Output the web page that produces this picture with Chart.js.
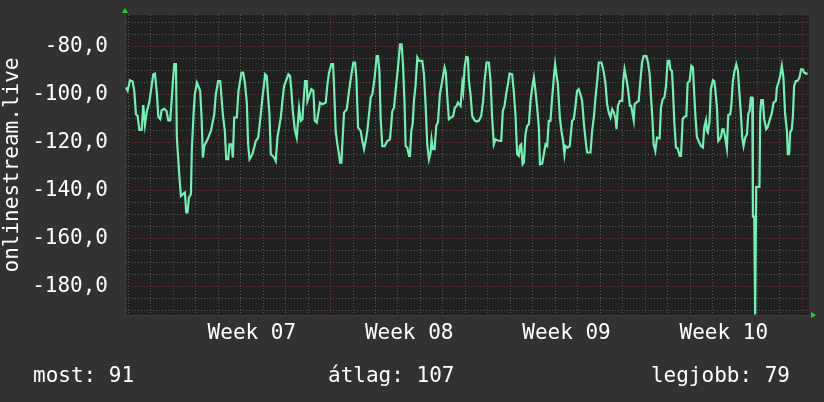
<!DOCTYPE html>
<html>
<head>
<meta charset="utf-8">
<script src="https://cdn.jsdelivr.net/npm/chart.js@4/dist/chart.umd.min.js"></script>
<style>
    html, body { margin: 0; padding: 0; background: #323232; }
    #wrap { position: relative; width: 824px; height: 402px; }
    canvas { display: block; }
    .foot {
        position: absolute;
        top: 363px;
        font: 21px "DejaVu Sans Mono", monospace;
        line-height: 25px;
        color: #ffffff;
        white-space: pre;
    }
</style>
</head>
<body>
<div id="wrap">
    <canvas id="graph" width="824" height="402"></canvas>
    <div class="foot" id="foot-0" style="left:33px"></div>
    <div class="foot" id="foot-1" style="left:328px"></div>
    <div class="foot" id="foot-2" style="right:34px"></div>
</div>
<script>
// hours since Monday 00:00 of week 07, value
const readings = [
    [-50.5, -96.9], [-48.7, -98.3], [-46.2, -93.9], [-43.3, -94.4], [-41.6, -98.3], [-39.8, -108.1], [-38.0, -108.8],
    [-36.2, -114.6], [-33.7, -114.6], [-32.0, -104.2], [-30.2, -112.5], [-28.1, -106.7], [-25.6, -103.2], [-23.8, -98.3],
    [-21.3, -91.4], [-19.5, -91.1], [-17.4, -99.7], [-15.9, -109.2], [-13.8, -110.1], [-12.4, -106.4], [-9.6, -105.8],
    [-7.1, -106.7], [-5.3, -110.6], [-3.2, -110.6], [-1.7, -102.5], [-0.3, -94.2], [1.1, -87.2], [2.9, -87.2],
    [3.9, -117.8], [6.4, -133.1], [8.2, -142.1], [12.5, -140.7], [13.9, -149.0], [15.3, -149.0], [16.7, -142.8],
    [18.9, -141.4], [19.9, -122.6], [21.7, -108.1], [23.1, -99.7], [25.3, -94.9], [28.8, -98.3], [30.3, -109.4],
    [31.7, -126.1], [33.1, -121.3], [36.7, -118.5], [40.2, -115.0], [43.8, -108.1], [45.5, -99.7], [48.0, -94.2],
    [50.2, -94.2], [53.0, -108.1], [55.1, -115.0], [56.6, -126.8], [58.7, -126.8], [60.1, -120.6], [62.3, -120.6],
    [63.7, -126.1], [65.1, -109.4], [67.9, -109.4], [69.7, -98.3], [72.9, -90.7], [74.7, -90.7], [76.5, -94.9],
    [78.6, -103.2], [80.0, -120.6], [81.5, -126.8], [84.6, -124.7], [88.2, -119.2], [90.7, -117.8], [93.5, -108.1],
    [95.3, -101.1], [98.2, -91.4], [99.9, -92.1], [101.4, -101.1], [102.8, -108.1], [104.2, -124.7], [107.8, -126.1],
    [109.5, -127.5], [111.3, -117.8], [114.9, -109.4], [116.6, -102.5], [118.4, -96.3], [123.0, -91.4], [124.8, -92.1],
    [126.2, -98.3], [127.7, -106.7], [129.8, -114.3], [131.9, -117.8], [134.4, -105.3],
    [136.2, -110.8], [138.0, -110.1], [139.1, -103.2], [140.8, -94.2], [142.6, -94.2], [143.3, -102.5], [145.1, -100.4],
    [147.6, -97.6], [149.7, -98.3], [151.2, -110.8], [153.3, -111.5], [154.7, -108.1], [156.8, -103.2], [159.3, -103.9],
    [162.9, -103.2], [164.7, -95.6], [166.4, -90.7], [168.9, -87.2], [170.7, -87.2], [171.8, -96.9], [173.5, -115.0],
    [175.3, -120.6], [177.1, -124.7], [178.2, -128.2], [179.6, -128.2], [180.6, -120.6], [182.4, -107.4], [185.3, -106.0],
    [187.8, -98.3], [190.3, -91.4], [192.4, -86.5], [194.2, -86.5], [195.6, -92.8], [197.4, -113.6], [200.2, -115.0],
    [202.0, -119.2], [203.8, -122.6], [205.5, -119.2], [207.3, -115.0], [209.1, -108.1], [210.9, -101.1], [212.7, -99.7],
    [215.1, -92.8], [217.3, -83.8], [218.7, -83.8], [220.2, -90.0], [221.5, -109.4], [223.3, -121.3], [225.8, -121.3],
    [228.7, -119.2], [231.5, -118.5], [234.0, -106.7], [235.8, -105.3], [237.5, -98.3], [239.3, -91.4], [241.1, -83.8],
    [242.2, -78.9], [243.9, -78.9], [245.4, -87.2], [247.1, -103.9], [248.2, -121.3], [250.0, -122.0], [251.8, -125.4],
    [252.8, -125.4], [254.3, -115.0], [255.7, -112.2], [257.1, -102.5], [258.9, -95.6], [260.7, -84.4], [262.4, -85.8],
    [266.0, -85.8], [267.8, -91.4], [269.5, -103.9], [271.3, -120.6], [273.1, -126.8], [274.9, -124.0], [275.9, -118.5],
    [277.4, -122.6], [279.2, -122.6], [280.9, -112.9], [282.7, -111.5], [284.8, -99.7], [287.3, -94.2], [289.8, -88.6],
    [291.2, -90.7], [292.6, -100.4], [294.4, -110.1], [296.9, -109.4], [299.0, -108.8], [300.8, -105.3], [302.6, -104.6],
    [304.0, -103.2],
    [306.9, -104.6], [308.7, -95.6], [309.7, -98.3], [311.2, -88.6], [312.9, -84.2], [314.7, -84.4], [315.8, -94.2],
    [317.5, -99.7], [319.3, -108.8], [321.8, -110.6], [324.0, -111.1], [326.4, -110.8], [328.9, -108.8], [331.0, -102.5],
    [332.5, -94.2], [334.6, -86.5], [337.1, -86.5], [338.9, -94.2], [340.6, -109.4], [342.4, -120.6], [344.2, -118.5],
    [346.0, -118.9], [348.8, -119.2], [350.3, -119.2], [352.0, -106.7], [353.8, -104.6], [355.6, -99.7], [357.4, -95.6],
    [359.2, -91.1], [362.0, -91.4], [363.8, -99.0], [365.6, -108.8], [367.3, -124.7], [369.1, -125.4], [370.2, -121.3],
    [371.6, -120.6], [373.1, -128.9], [374.5, -128.2], [376.2, -116.4], [378.0, -112.9], [379.8, -112.2], [381.6, -102.5],
    [383.4, -96.9], [385.2, -92.8], [386.9, -98.3], [388.7, -105.3], [390.5, -113.6], [391.6, -128.9], [394.0, -128.6],
    [395.8, -124.7], [397.6, -120.6], [399.4, -121.3], [401.1, -110.8], [402.9, -110.8], [404.7, -101.1], [406.5, -92.8],
    [407.9, -87.2], [409.3, -91.4], [410.8, -95.6], [412.9, -109.4], [414.6, -115.0], [416.4, -119.2], [417.8, -124.7],
    [418.9, -121.3], [421.4, -122.0], [423.5, -121.3], [426.0, -110.8], [427.8, -110.1], [429.6, -104.6], [431.3, -98.3],
    [433.1, -97.6], [434.9, -99.7], [436.7, -102.5], [438.5, -111.5], [440.3, -118.5], [442.0, -124.0], [445.6, -124.0],
    [447.4, -115.0], [449.2, -109.4], [451.0, -101.1], [452.8, -94.2], [454.5, -86.5], [457.4, -86.5], [459.9, -90.7],
    [461.7, -95.6], [463.4, -103.9], [465.2, -107.4], [467.0, -109.4], [468.8, -106.0], [470.6, -107.4], [472.4, -110.1],
    [473.4, -114.3], [474.9, -104.6], [477.0, -102.5], [479.5, -102.5], [480.6, -94.2], [482.0, -89.3], [483.7, -92.8],
    [485.5, -96.9], [487.7, -104.6], [489.1, -104.6],
    [491.8, -110.6], [492.8, -103.9], [494.6, -103.2], [497.1, -102.5], [498.9, -94.2], [500.7, -86.5], [502.4, -83.8],
    [505.3, -83.8], [507.1, -86.5], [508.8, -91.4], [510.3, -101.1], [511.7, -109.4], [513.1, -120.6], [514.9, -123.3],
    [516.7, -117.8], [519.5, -118.1], [520.9, -105.3], [522.7, -101.8], [524.5, -101.1], [526.3, -96.3], [528.0, -85.8],
    [529.8, -85.8], [530.9, -89.3], [532.6, -90.0], [533.7, -97.6], [535.1, -110.8], [536.9, -121.9], [538.7, -122.2],
    [540.9, -125.4], [542.3, -125.4], [544.1, -110.1], [545.8, -109.2], [548.0, -108.8], [549.4, -94.9], [551.5, -94.2],
    [553.3, -87.9], [555.1, -88.6], [555.8, -94.9], [557.6, -108.1], [559.3, -117.5], [561.1, -119.2], [563.6, -121.3],
    [565.7, -121.9], [567.1, -113.6], [568.9, -110.6], [569.9, -115.0], [571.0, -115.7], [572.8, -110.8], [574.2, -97.6],
    [576.4, -93.9], [577.8, -94.2], [578.9, -97.6], [580.7, -105.3], [582.1, -119.2], [583.5, -118.5], [585.0, -117.5],
    [586.4, -114.3], [587.8, -114.3], [589.2, -117.1], [591.3, -122.2], [592.8, -108.3], [594.9, -108.1], [596.0, -104.6],
    [597.7, -94.2], [599.5, -90.0], [601.3, -87.2], [603.1, -90.0], [604.9, -100.4], [606.3, -108.1], [607.7, -117.8],
    [609.1, -121.3], [610.9, -117.8], [612.7, -116.4], [614.1, -108.1], [615.5, -106.7], [616.9, -101.1], [618.4, -101.1],
    [619.1, -150.7], [620.5, -150.7], [621.5, -191.5], [622.6, -138.3], [626.1, -138.3], [626.9, -107.8], [628.0, -102.2],
    [629.8, -102.2], [631.1, -110.1], [633.3, -114.3], [634.7, -113.6], [636.8, -110.8], [639.4, -107.4], [641.1, -103.2],
    [643.6, -102.5], [644.7, -96.9], [646.4, -94.9], [648.2, -92.1], [650.0, -87.9], [651.7, -92.8], [653.5, -108.1],
    [655.4, -115.0], [656.4, -124.7], [657.8, -124.7], [658.9, -115.7], [660.7, -114.3], [661.8, -108.8], [663.1, -96.3],
    [664.9, -94.2], [666.7, -94.2], [668.8, -92.8], [670.6, -89.3], [672.4, -89.3], [673.8, -90.7], [676.0, -91.1],
    [677.6, -91.1]
];

const weekLabels = ['Week 07', 'Week 08', 'Week 09', 'Week 10'];
const axisTitle = 'onlinestream.live';
const summaryLabels = ['most', 'átlag', 'legjobb'];
const summaryValues = [91, 107, 79];

const GRAPH = {
    xMin: -51.5,
    xMax: 679,
    yMin: -191.7,
    yMax: -66.7,
    lineColor: '#70f0b2',
    plotBg: '#212121',
    minorGrid: 'rgb(88, 88, 88)',
    majorGrid: 'rgb(125, 48, 48)',
    arrowColor: '#1fd81f',
    font: '"DejaVu Sans Mono", monospace',
};

const plotBackground = {
    id: 'plotBackground',
    beforeDraw(chart) {
        const { ctx, chartArea: a } = chart;
        ctx.save();
        ctx.fillStyle = GRAPH.plotBg;
        ctx.fillRect(a.left, a.top, a.right - a.left, a.bottom - a.top);
        ctx.restore();
    }
};

const axisArrows = {
    id: 'axisArrows',
    afterDraw(chart) {
        const { ctx, chartArea: a } = chart;
        ctx.save();
        ctx.fillStyle = GRAPH.arrowColor;
        ctx.beginPath();
        ctx.moveTo(a.left, a.top - 7);
        ctx.lineTo(a.left - 3, a.top - 2);
        ctx.lineTo(a.left + 3, a.top - 2);
        ctx.closePath();
        ctx.fill();
        ctx.beginPath();
        ctx.moveTo(a.right + 7, a.bottom);
        ctx.lineTo(a.right + 2, a.bottom - 3);
        ctx.lineTo(a.right + 2, a.bottom + 3);
        ctx.closePath();
        ctx.fill();
        ctx.restore();
    }
};

summaryLabels.forEach((label, i) => {
    document.getElementById('foot-' + i).textContent = label + ': ' + summaryValues[i];
});

const ctx = document.getElementById('graph').getContext('2d');

new Chart(ctx, {
    type: 'line',
    data: {
        datasets: [{
            label: axisTitle,
            data: readings.map(([h, v]) => ({ x: h, y: v })),
            borderColor: GRAPH.lineColor,
            borderWidth: 2.2,
            pointRadius: 0,
            tension: 0,
            fill: false
        }]
    },
    options: {
        responsive: false,
        animation: false,
        layout: { padding: { left: 0, top: 15, right: 15, bottom: 0 } },
        plugins: {
            legend: { display: false },
            tooltip: { enabled: false }
        },
        scales: {
            x: {
                type: 'linear',
                min: GRAPH.xMin,
                max: GRAPH.xMax,
                afterBuildTicks(scale) {
                    const ticks = [];
                    for (let h = -48; h <= 672; h += 12) ticks.push({ value: h });
                    scale.ticks = ticks;
                },
                afterFit(scale) {
                    scale.height = 87;
                    scale.paddingLeft = 0;
                    scale.paddingRight = 0;
                },
                grid: {
                    drawTicks: false,
                    color(c) {
                        const v = c.tick ? c.tick.value : 1;
                        if (v % 168 === 0) return GRAPH.majorGrid;
                        if (v % 24 === 0) return GRAPH.minorGrid;
                        return 'rgba(0,0,0,0)';
                    }
                },
                border: { display: true, color: '#3a3a3a', dash: [1, 2] },
                ticks: {
                    autoSkip: false,
                    maxRotation: 0,
                    minRotation: 0,
                    padding: 6,
                    color: '#ffffff',
                    font: { family: GRAPH.font, size: 21 },
                    callback(value) {
                        const w = (value - 84) / 168;
                        return Number.isInteger(w) && weekLabels[w] ? weekLabels[w] : '';
                    }
                }
            },
            y: {
                min: GRAPH.yMin,
                max: GRAPH.yMax,
                afterBuildTicks(scale) {
                    const ticks = [];
                    for (let v = -190; v <= -70; v += 5) ticks.push({ value: v });
                    scale.ticks = ticks;
                },
                afterFit(scale) {
                    scale.width = 125;
                    scale.paddingTop = 0;
                    scale.paddingBottom = 0;
                },
                grid: {
                    drawTicks: false,
                    color(c) {
                        const v = c.tick ? c.tick.value : 1;
                        return v % 20 === 0 ? GRAPH.majorGrid : GRAPH.minorGrid;
                    }
                },
                border: { display: true, color: '#3a3a3a', dash: [1, 2] },
                title: {
                    display: true,
                    text: axisTitle,
                    color: '#ffffff',
                    padding: 0,
                    font: { family: GRAPH.font, size: 21 }
                },
                ticks: {
                    autoSkip: false,
                    padding: 17,
                    color: '#ffffff',
                    font: { family: GRAPH.font, size: 21 },
                    callback(value) {
                        return value % 20 === 0 ? value.toFixed(1).replace('.', ',') : '';
                    }
                }
            }
        }
    },
    plugins: [plotBackground, axisArrows]
});
</script>
</body>
</html>
